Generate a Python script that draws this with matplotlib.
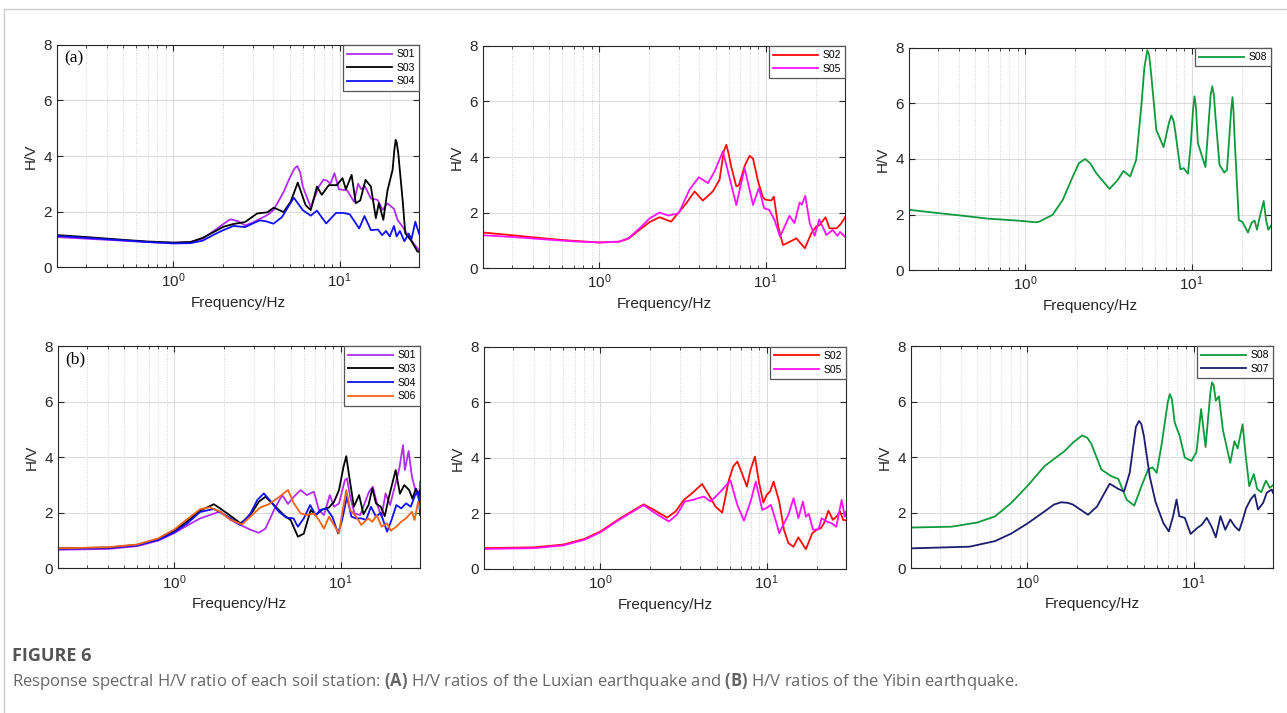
import matplotlib
matplotlib.use("Agg")
import matplotlib.pyplot as plt
import numpy as np
from matplotlib.lines import Line2D
from matplotlib.ticker import LogLocator, NullFormatter

plt.rcParams['font.family'] = ['Liberation Sans', 'DejaVu Sans']
plt.rcParams['mathtext.fontset'] = 'custom'
plt.rcParams['mathtext.rm'] = 'Liberation Sans'
plt.rcParams['mathtext.bf'] = 'Open Sans:bold'

# (frequency Hz, H/V)
# (a) Luxian earthquake
a_s01 = [(0.2, 1.08), (0.3, 1.02), (0.5, 0.95), (0.7, 0.9), (1.0, 0.87), (1.27, 0.9), (1.5, 1.02),
         (1.8, 1.35), (2.0, 1.55), (2.2, 1.72), (2.45, 1.65), (2.7, 1.5), (3.0, 1.6), (3.67, 1.87),
         (4.0, 2.05), (4.6, 2.7), (5.0, 3.2), (5.35, 3.55), (5.56, 3.64), (5.8, 3.4), (6.0, 2.9),
         (6.7, 2.15), (7.5, 2.9), (8.0, 3.15), (8.4, 3.11), (8.8, 3.0), (9.3, 3.38), (9.9, 2.8),
         (11.1, 2.76), (12.2, 2.35), (12.9, 3.0), (13.5, 2.8), (14.2, 2.9), (15.4, 2.47), (16.9, 2.42),
         (18.1, 2.06), (19.4, 2.29), (21.2, 2.1), (22.3, 1.69), (23.9, 1.45), (26.8, 0.97), (30, 0.61)]
a_s03 = [(0.2, 1.15), (0.3, 1.08), (0.5, 0.98), (0.7, 0.92), (1.0, 0.88), (1.27, 0.9), (1.5, 1.05),
         (1.8, 1.3), (2.0, 1.45), (2.3, 1.55), (2.7, 1.62), (3.19, 1.93), (3.67, 1.97), (4.02, 2.14),
         (4.6, 1.98), (5.07, 2.35), (5.6, 3.04), (6.24, 2.23), (6.7, 2.05), (7.3, 2.9), (7.8, 2.6),
         (8.6, 2.95), (9.6, 2.95), (10.4, 3.2), (10.9, 2.8), (11.8, 3.32), (12.5, 2.3), (13.3, 2.4),
         (14.3, 3.14), (15.4, 2.9), (16.5, 1.76), (17.2, 2.3), (18.3, 1.7), (19.4, 2.77), (20.8, 3.5),
         (21.3, 4.2), (21.7, 4.58), (22.0, 4.5), (22.5, 4.1), (23.9, 2.41), (24.8, 1.21), (26.8, 0.97),
         (29.3, 0.56), (30, 0.55)]
a_s04 = [(0.2, 1.12), (0.3, 1.05), (0.5, 0.96), (0.7, 0.9), (1.0, 0.85), (1.27, 0.86), (1.5, 0.95),
         (1.8, 1.2), (2.0, 1.33), (2.3, 1.48), (2.7, 1.44), (3.3, 1.68), (3.6, 1.65), (4.0, 1.56),
         (4.5, 1.8), (5.0, 2.25), (5.3, 2.5), (6.0, 2.05), (6.7, 1.85), (7.3, 2.03), (8.3, 1.57),
         (9.5, 1.95), (10.5, 1.95), (11.5, 1.9), (13.1, 1.39), (14.1, 1.84), (15.4, 1.33), (17, 1.35),
         (18, 1.15), (19, 1.3), (20, 1.1), (21.2, 1.48), (22, 1.1), (23, 1.3), (24.5, 0.93), (26, 1.2),
         (27, 1.0), (28.5, 1.63), (30, 1.2)]
a_s02 = [(0.2, 1.28), (0.3, 1.18), (0.5, 1.05), (0.7, 0.98), (1.0, 0.92), (1.32, 0.95), (1.5, 1.06),
         (1.74, 1.37), (2.0, 1.65), (2.3, 1.83), (2.7, 1.67), (3.33, 2.33), (3.74, 2.76), (4.19, 2.43),
         (4.81, 2.76), (5.28, 3.18), (5.6, 4.2), (5.8, 4.44), (6.0, 4.1), (6.2, 3.66), (6.66, 2.94),
         (6.9, 2.98), (7.5, 3.7), (8.0, 4.04), (8.4, 3.94), (9.0, 3.12), (9.6, 2.57), (9.9, 2.47),
         (10.8, 2.43), (11.2, 2.57), (11.9, 1.49), (12.7, 0.83), (13.4, 0.89), (15.3, 1.07), (17.2, 0.71),
         (18.8, 1.25), (20.1, 1.49), (21.1, 1.55), (22.9, 1.83), (24.2, 1.43), (26.7, 1.43), (28.4, 1.6),
         (30, 1.83)]
a_s05 = [(0.2, 1.18), (0.3, 1.12), (0.5, 1.02), (0.7, 0.96), (1.0, 0.92), (1.32, 0.95), (1.5, 1.08),
         (1.74, 1.42), (2.0, 1.78), (2.3, 2.0), (2.6, 1.89), (3.0, 1.97), (3.48, 2.82), (3.97, 3.27),
         (4.5, 3.06), (4.93, 3.48), (5.53, 4.2), (5.9, 3.54), (6.66, 2.27), (7.47, 3.6), (8.4, 2.27),
         (9.1, 2.88), (9.8, 2.15), (10.5, 2.1), (11.3, 1.73), (12.2, 1.13), (13.9, 1.88), (14.9, 1.62),
         (16.0, 2.36), (16.5, 2.28), (17.3, 2.6), (18.4, 1.62), (19.7, 1.16), (21.0, 1.75), (23.2, 1.19),
         (25.3, 1.37), (27, 1.16), (28, 1.3), (30, 1.12)]
a_s08 = [(0.2, 2.17), (0.3, 2.05), (0.4, 1.97), (0.6, 1.85), (0.9, 1.78), (1.16, 1.72), (1.21, 1.74),
         (1.46, 1.99), (1.68, 2.53), (1.93, 3.37), (2.1, 3.85), (2.29, 4.0), (2.45, 3.85), (2.67, 3.49),
         (3.21, 2.92), (3.6, 3.25), (3.89, 3.57), (4.27, 3.37), (4.64, 3.97), (4.98, 5.9), (5.2, 7.3),
         (5.41, 7.92), (5.55, 7.75), (5.7, 7.1), (6.13, 5.05), (6.78, 4.43), (7.3, 5.3), (7.55, 5.57),
         (7.8, 5.35), (8.0, 4.93), (8.55, 3.63), (8.95, 3.67), (9.5, 3.47), (9.85, 4.45), (10.2, 5.8),
         (10.4, 6.26), (10.6, 5.9), (10.9, 4.57), (12.1, 3.71), (13.0, 6.3), (13.3, 6.62), (13.6, 6.3),
         (13.9, 5.53), (14.7, 3.79), (15.7, 3.51), (16.3, 3.6), (17.3, 5.8), (17.6, 6.23), (17.85, 5.7),
         (18.1, 4.81), (19.2, 1.8), (20.2, 1.73), (21.8, 1.35), (23, 1.72), (23.9, 1.78), (24.7, 1.45),
         (25.4, 1.8), (27.1, 2.49), (28, 1.8), (28.9, 1.45), (30, 1.6)]

# (b) Yibin earthquake
b_s01 = [(0.2, 0.67), (0.4, 0.7), (0.6, 0.8), (0.8, 1.0), (1.0, 1.27), (1.2, 1.55), (1.43, 1.8),
         (1.89, 2.05), (2.17, 1.75), (2.5, 1.56), (2.87, 1.39), (3.22, 1.28), (3.53, 1.43), (3.97, 2.1),
         (4.45, 2.64), (4.82, 2.32), (5.23, 2.58), (5.74, 2.82), (6.25, 2.64), (6.9, 2.76), (7.4, 2.1),
         (7.93, 1.92), (8.6, 2.64), (9.12, 2.22), (9.77, 2.34), (10.6, 3.18), (10.9, 3.24), (11.4, 2.58),
         (12.1, 1.98), (13.1, 1.92), (13.8, 2.28), (14.8, 2.76), (15.6, 2.94), (16.6, 2.28), (17.6, 1.86),
         (18.6, 2.7), (19.8, 2.28), (21, 2.88), (22.5, 3.6), (23.7, 4.44), (24.3, 3.54), (25.6, 4.23),
         (26.8, 3.3), (28.3, 2.76), (29.6, 2.46), (30, 3.12)]
b_s03 = [(0.2, 0.72), (0.4, 0.75), (0.6, 0.85), (0.8, 1.05), (1.0, 1.35), (1.2, 1.7), (1.43, 2.08),
         (1.73, 2.31), (2.08, 1.98), (2.5, 1.62), (2.87, 1.92), (3.22, 2.4), (3.53, 2.58), (3.97, 2.28),
         (4.55, 1.92), (5.0, 1.74), (5.53, 1.14), (6.0, 1.25), (6.6, 2.1), (7.07, 1.92), (7.76, 2.12),
         (8.5, 2.19), (9.12, 2.4), (9.77, 2.82), (10.4, 3.66), (10.8, 4.04), (11.3, 3.24), (12.0, 2.22),
         (12.9, 2.64), (13.7, 1.95), (14.7, 2.28), (15.5, 2.88), (16.3, 2.34), (17.4, 2.22), (18.4, 1.88),
         (19.5, 2.58), (21.4, 3.54), (22.7, 2.69), (24.1, 3.0), (25.8, 2.82), (27, 2.51), (28.3, 2.87),
         (29.6, 2.63), (30, 2.82)]
b_s04 = [(0.2, 0.7), (0.4, 0.73), (0.6, 0.83), (0.8, 1.02), (1.0, 1.3), (1.2, 1.63), (1.43, 2.03),
         (1.73, 2.14), (2.08, 1.88), (2.5, 1.56), (2.87, 1.98), (3.15, 2.46), (3.45, 2.7), (3.74, 2.46),
         (4.25, 2.04), (4.7, 1.83), (5.2, 1.8), (5.53, 1.5), (6.0, 1.8), (6.55, 2.28), (7.07, 1.92),
         (7.55, 2.1), (8.2, 2.16), (8.9, 1.86), (9.65, 1.26), (10.2, 1.74), (10.9, 2.58), (11.6, 1.86),
         (12.4, 1.8), (13.3, 1.8), (14.2, 1.74), (15.2, 2.22), (16.3, 1.86), (17.4, 2.0), (19.0, 1.32),
         (20.2, 1.74), (21.6, 2.28), (23.1, 2.16), (24.7, 2.34), (26.4, 2.22), (28, 2.64), (29.3, 2.76),
         (30, 1.92)]
b_s06 = [(0.2, 0.72), (0.4, 0.76), (0.6, 0.86), (0.8, 1.08), (1.0, 1.4), (1.2, 1.78), (1.43, 2.13),
         (1.63, 2.2), (1.89, 2.04), (2.17, 1.76), (2.55, 1.58), (2.93, 1.92), (3.3, 2.2), (3.7, 2.31),
         (4.15, 2.52), (4.82, 2.82), (5.23, 2.34), (5.74, 1.98), (6.25, 1.92), (6.9, 1.98), (7.4, 1.74),
         (7.93, 1.43), (8.5, 1.86), (9.12, 1.56), (9.77, 1.26), (10.2, 1.98), (10.8, 2.82), (11.4, 2.1),
         (12.4, 1.86), (13.3, 1.56), (14.6, 1.8), (15.5, 1.68), (16.5, 1.92), (17.6, 1.5), (19.0, 1.62),
         (20, 1.36), (21.6, 1.5), (23.1, 1.68), (24.7, 1.8), (26.8, 2.04), (27.8, 1.74), (29.2, 2.4),
         (30, 2.16)]
b_s02 = [(0.2, 0.75), (0.4, 0.78), (0.6, 0.88), (0.8, 1.08), (1.0, 1.35), (1.32, 1.83), (1.82, 2.33),
         (2.1, 2.13), (2.52, 1.85), (2.83, 2.07), (3.18, 2.49), (3.56, 2.73), (4.09, 3.06), (4.49, 2.67),
         (4.92, 2.25), (5.4, 2.03), (5.93, 3.21), (6.3, 3.7), (6.66, 3.87), (7.1, 3.45), (7.6, 2.97),
         (8.0, 3.58), (8.5, 4.05), (9.0, 3.1), (9.55, 2.39), (10.0, 2.67), (10.5, 2.8), (11.0, 3.15),
         (11.9, 2.42), (12.7, 1.41), (13.5, 0.93), (14.5, 0.8), (15.5, 1.14), (16.3, 0.93), (17.2, 0.71),
         (18.8, 1.29), (20.2, 1.43), (21.1, 1.46), (22.1, 1.65), (23.5, 2.1), (25, 1.77), (26.5, 1.91),
         (27.6, 2.07), (28.8, 1.77), (30, 1.75)]
b_s05 = [(0.2, 0.72), (0.4, 0.75), (0.6, 0.85), (0.8, 1.05), (1.0, 1.32), (1.32, 1.8), (1.82, 2.3),
         (2.1, 2.04), (2.58, 1.71), (2.88, 1.95), (3.22, 2.43), (3.6, 2.49), (4.19, 2.61), (4.6, 2.43),
         (5.17, 2.73), (5.74, 3.03), (6.05, 3.19), (6.66, 2.31), (7.3, 1.74), (8.0, 2.43), (8.6, 3.15),
         (9.4, 2.13), (10, 2.2), (10.6, 2.31), (11.3, 1.77), (11.9, 1.29), (12.7, 1.64), (13.5, 1.95),
         (14.5, 2.55), (15.5, 1.83), (16.5, 2.43), (17.2, 1.88), (17.9, 1.99), (19.0, 1.41), (20.5, 1.43),
         (21.4, 1.83), (23, 1.71), (24.7, 1.64), (26.2, 1.52), (28.2, 2.49), (29.5, 1.88), (30, 2.07)]
b_s08 = [(0.2, 1.47), (0.35, 1.5), (0.5, 1.65), (0.64, 1.87), (0.8, 2.35), (1.0, 2.96), (1.27, 3.68),
         (1.68, 4.23), (1.9, 4.55), (2.14, 4.79), (2.3, 4.7), (2.43, 4.48), (2.79, 3.56), (3.2, 3.32),
         (3.53, 3.22), (3.96, 2.47), (4.4, 2.26), (4.86, 2.96), (5.33, 3.56), (5.66, 3.64), (6.0, 3.44),
         (6.45, 4.53), (7.0, 6.0), (7.2, 6.28), (7.4, 6.1), (7.7, 5.25), (8.25, 4.77), (8.85, 3.99),
         (9.7, 3.87), (10.4, 4.18), (11.1, 5.74), (11.8, 4.37), (12.6, 6.3), (12.9, 6.7), (13.2, 6.6),
         (13.6, 6.04), (14.2, 6.2), (15.0, 4.99), (16.6, 3.8), (17.6, 4.58), (18.4, 4.32), (19.7, 5.19),
         (20.6, 4.03), (21.6, 2.96), (23.0, 3.4), (24.1, 2.86), (25.5, 2.74), (27.2, 3.16), (28.7, 2.9),
         (30, 3.0)]
b_s07 = [(0.2, 0.72), (0.45, 0.78), (0.64, 0.98), (0.8, 1.25), (1.0, 1.61), (1.27, 2.05), (1.45, 2.3),
         (1.6, 2.38), (1.75, 2.36), (1.88, 2.3), (2.32, 1.93), (2.63, 2.23), (3.13, 3.05), (3.53, 2.86),
         (3.82, 2.77), (4.13, 3.44), (4.5, 5.1), (4.7, 5.31), (4.85, 5.2), (5.03, 4.76), (5.45, 3.31),
         (5.9, 2.4), (6.58, 1.63), (7.1, 1.33), (7.53, 1.88), (7.9, 2.48), (8.2, 1.88), (8.85, 1.82),
         (9.6, 1.24), (10.5, 1.45), (11.2, 1.57), (12.0, 1.82), (12.8, 1.51), (13.6, 1.12), (14.5, 1.88),
         (15.5, 1.39), (16.6, 1.76), (17.7, 1.51), (18.8, 1.36), (19.6, 1.69), (20.7, 2.17), (22, 2.48),
         (23.3, 2.66), (24.4, 2.12), (26.2, 2.36), (27.5, 2.72), (29.5, 2.84), (30, 2.72)]

c_purple = '#b02cf2'
c_black = '#000000'
c_blue = '#1010f5'
c_orange = '#f06414'
c_red = '#ff0a0a'
c_mag = '#ff10ff'
c_green = '#0e9a3c'
c_navy = '#1c1c6e'

panels = [
    ([0.0443, 0.6255, 0.2813, 0.3114], [(a_s01, 'S01', c_purple), (a_s03, 'S03', c_black), (a_s04, 'S04', c_blue)], '(a)'),
    ([0.3753, 0.6241, 0.2813, 0.3114], [(a_s02, 'S02', c_red), (a_s05, 'S05', c_mag)], None),
    ([0.7063, 0.6213, 0.2813, 0.3114], [(a_s08, 'S08', c_green)], None),
    ([0.0451, 0.2029, 0.2813, 0.3114], [(b_s01, 'S01', c_purple), (b_s03, 'S03', c_black),
                                        (b_s04, 'S04', c_blue), (b_s06, 'S06', c_orange)], '(b)'),
    ([0.3761, 0.2020, 0.2813, 0.3114], [(b_s02, 'S02', c_red), (b_s05, 'S05', c_mag)], None),
    ([0.7078, 0.2029, 0.2813, 0.3114], [(b_s08, 'S08', c_green), (b_s07, 'S07', c_navy)], None),
]

fig = plt.figure(figsize=(12.87, 7.13), dpi=100)

# page frame lines
fig.add_artist(Line2D([4 / 1287, 1], [1 - 9 / 713, 1 - 9 / 713], transform=fig.transFigure, color='#cccccc', lw=1))
fig.add_artist(Line2D([4 / 1287, 4 / 1287], [0, 1 - 9 / 713], transform=fig.transFigure, color='#cccccc', lw=1))

for rect, series, tag in panels:
    ax = fig.add_axes(rect)
    for pts, name, col in series:
        f, hv = np.array(pts).T
        ax.plot(f, hv, color=col, lw=1.3, label=name, solid_joinstyle='round')
    ax.set_xscale('log')
    ax.set_xlim(0.2, 30)
    ax.set_ylim(0, 8)
    ax.set_yticks([0, 2, 4, 6, 8])
    ax.xaxis.set_major_locator(LogLocator(base=10, numticks=10))
    ax.xaxis.set_minor_locator(LogLocator(base=10, subs=np.arange(2, 10), numticks=20))
    ax.xaxis.set_minor_formatter(NullFormatter())
    ax.grid(True, which='major', color='#dcdcdc', lw=0.8)
    ax.grid(True, which='minor', axis='x', color='#d2d2d2', lw=0.7, ls=':')
    ax.set_axisbelow(True)
    ax.tick_params(which='both', direction='in', top=True, right=True, colors='#262626', labelsize=11)
    ax.tick_params(which='major', length=4)
    ax.tick_params(which='minor', length=2.5)
    for sp in ax.spines.values():
        sp.set_color('#262626')
        sp.set_linewidth(0.8)
    ax.set_xlabel('Frequency/Hz', fontsize=11, color='#262626')
    ax.set_ylabel('H/V', fontsize=11, color='#262626')
    leg = ax.legend(loc='upper right', borderaxespad=0, fontsize=7.5, handlelength=4.3,
                    handletextpad=0.4, labelspacing=0.35, borderpad=0.4, fancybox=False,
                    framealpha=1, edgecolor='#555555')
    leg.get_frame().set_linewidth(0.9)
    if tag:
        ax.text(0.02, 0.94, tag, transform=ax.transAxes, fontsize=12.5,
                family='Liberation Serif', va='center', ha='left')

fig.text(12 / 1287, 1 - 656 / 713, 'FIGURE 6', fontsize=13, fontweight='bold', color='#555555',
         family='Open Sans', va='center', ha='left')
fig.text(12 / 1287, 1 - 681 / 713,
         'Response spectral H/V ratio of each soil station: $\\bf{(A)}$ H/V ratios of the Luxian earthquake '
         'and $\\bf{(B)}$ H/V ratios of the Yibin earthquake.',
         fontsize=12, color='#666666', family='Open Sans', va='center', ha='left')

fig.savefig('out.png', dpi=100)
